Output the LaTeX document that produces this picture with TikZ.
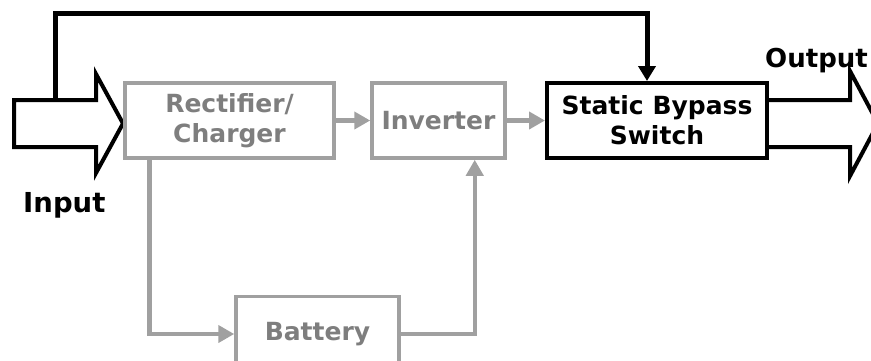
\documentclass[tikz,border=0pt]{standalone}
\usepackage{fontspec}
\setmainfont{DejaVu Sans}
\usetikzlibrary{arrows.meta}
\definecolor{upsgray}{HTML}{A0A0A0}
\definecolor{upstext}{HTML}{7E7E7E}

\begin{document}
\begin{tikzpicture}[x=1pt, y=-1pt]

    % Define styles
    \tikzstyle{block} = [
        rectangle, minimum height=75pt, align=center,
        font=\fontsize{25}{30}\selectfont\bfseries
    ]
    \tikzstyle{grayblock} = [block, draw=upsgray, line width=3.5pt, text=upstext]
    \tikzstyle{blackblock} = [block, draw=black, line width=4pt]
    \tikzstyle{garrow} = [upsgray, line width=4.5pt, -{Triangle[length=16pt,width=17pt]}]
    \tikzstyle{barrow} = [black, line width=5pt, -{Triangle[length=15pt,width=17pt]}]
    \tikzstyle{bigarrow} = [draw=black, line width=4pt, fill=white, line join=miter]
    \tikzstyle{label} = [font=\fontsize{27.5}{32}\selectfont\bfseries, inner sep=0pt]

    \useasboundingbox (0,0) rectangle (871,360);

    % Big input and output arrows
    \draw[bigarrow] (14,100) -- (96,100) -- (96,74) -- (123,123.5) -- (96,173)
        -- (96,147) -- (14,147) -- cycle;
    \draw[bigarrow] (767,100) -- (850,100) -- (850,71) -- (878,123.5) -- (850,176)
        -- (850,147) -- (767,147);
    \coordinate (tap) at (55,100);
    \coordinate (bend) at (55,13);

    % Nodes
    \node[grayblock, minimum width=209pt] (rect) at (229.5,120.5) {Rectifier/\\Charger};
    \node[grayblock, minimum width=133pt] (inv) at (438.5,120.5) {Inverter};
    \node[blackblock, minimum width=220pt] (sbs) at (657,120.5) {Static Bypass\\Switch};
    \node[grayblock, minimum width=163pt] (bat) at (317.5,334) {Battery};
    \node[label, anchor=base west] (in) at (23,212) {Input};
    \node[label, anchor=base east, font=\fontsize{26}{30}\selectfont\bfseries] (out) at (868,67) {Output};

    % Arrows
    \draw[garrow] (rect) -- (inv);
    \draw[garrow] (inv) -- (sbs);
    \draw[garrow] ([xshift=26pt]rect.south west) |- (bat.west);
    \draw[garrow] (bat.east) -| ([xshift=-32pt]inv.south east);
    \draw[barrow] (tap) -- (bend) -| ([xshift=-10pt]sbs.north);

\end{tikzpicture}
\end{document}
